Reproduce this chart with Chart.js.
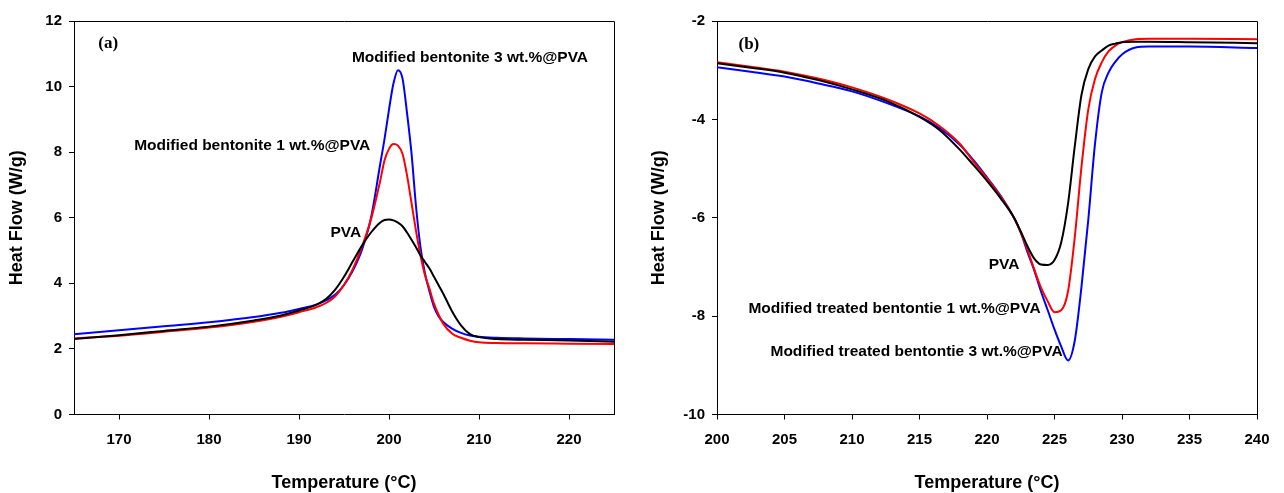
<!DOCTYPE html>
<html>
<head>
<meta charset="utf-8">
<script src="https://cdn.jsdelivr.net/npm/chart.js@4.4.1/dist/chart.umd.min.js"></script>
<style>
  body { margin: 0; background: #fff; }
  .panel { position: absolute; top: 0; width: 642px; height: 493px; }
</style>
</head>
<body>
<div class="panel" style="left:0"><canvas id="dscA" width="642" height="493"></canvas></div>
<div class="panel" style="left:642px"><canvas id="dscB" width="642" height="493"></canvas></div>
<script>
// (a) crystallisation peak, cooling scan
const tempA = [165, 170, 175, 180, 185, 188, 190, 192, 193, 194, 195, 196,
  197, 198, 199, 199.5, 200, 200.5, 201, 201.5,
  202, 202.5, 203, 203.5, 204, 204.5, 205, 205.5, 206,
  207, 208, 209, 210, 212, 215, 220, 225];
const pvaA = [2.30, 2.42, 2.55, 2.68, 2.87, 3.02, 3.17, 3.36, 3.52, 3.80, 4.20, 4.68,
  5.15, 5.55, 5.85, 5.93, 5.95, 5.92, 5.85, 5.74,
  5.55, 5.33, 5.10, 4.85, 4.65, 4.45, 4.20, 3.95, 3.70,
  3.15, 2.72, 2.45, 2.36, 2.30, 2.28, 2.26, 2.22];
const bent1A = [2.32, 2.40, 2.52, 2.65, 2.83, 2.98, 3.12, 3.28, 3.40, 3.60, 3.95, 4.45,
  5.12, 5.95, 7.10, 7.75, 8.10, 8.25, 8.20, 7.95,
  7.30, 6.45, 5.60, 4.85, 4.25, 3.83, 3.38, 3.05, 2.78,
  2.47, 2.34, 2.25, 2.20, 2.18, 2.17, 2.16, 2.15];
const bent3A = [2.45, 2.57, 2.69, 2.81, 2.97, 3.10, 3.22, 3.36, 3.48, 3.65, 3.95, 4.40,
  5.03, 6.00, 7.60, 8.40, 9.30, 10.10, 10.50, 10.25,
  9.20, 7.97, 6.35, 5.10, 4.30, 3.75, 3.28, 3.00, 2.83,
  2.62, 2.49, 2.41, 2.37, 2.34, 2.32, 2.30, 2.28];

// (b) melting endotherm, heating scan
const tempB = [200, 202.5, 205, 207.5, 210, 212.5, 215,
  216.5, 218, 219, 220, 221, 222,
  222.5, 223, 223.5, 224, 224.5, 225, 225.5, 226, 226.5, 227, 227.5, 228, 228.5, 229, 229.5, 230,
  231, 232, 235, 240];
const pvaB = [-2.86, -2.95, -3.05, -3.20, -3.39, -3.62, -3.95,
  -4.22, -4.62, -4.93, -5.25, -5.60, -6.00,
  -6.28, -6.58, -6.83, -6.95, -6.96, -6.86, -6.50, -5.72, -4.55, -3.50, -2.98, -2.72, -2.60, -2.50, -2.46, -2.43,
  -2.42, -2.42, -2.43, -2.45];
const bent1B = [-2.84, -2.93, -3.03, -3.17, -3.35, -3.58, -3.88,
  -4.14, -4.50, -4.86, -5.20, -5.57, -6.00,
  -6.30, -6.65, -7.05, -7.42, -7.70, -7.92, -7.88, -7.50, -6.40, -4.96, -3.80, -3.18, -2.84, -2.62, -2.50, -2.43,
  -2.37, -2.36, -2.36, -2.37];
const bent3B = [-2.94, -3.03, -3.13, -3.27, -3.43, -3.66, -3.94,
  -4.18, -4.52, -4.83, -5.18, -5.55, -6.00,
  -6.30, -6.70, -7.07, -7.50, -7.88, -8.27, -8.62, -8.90, -8.50, -7.40, -6.05, -4.50, -3.45, -3.05, -2.83, -2.68,
  -2.54, -2.52, -2.52, -2.55];

const xTicksA = [170, 180, 190, 200, 210, 220];
const yTicksA = [0, 2, 4, 6, 8, 10, 12];
const xTicksB = [200, 205, 210, 215, 220, 225, 230, 235, 240];
const yTicksB = [-10, -8, -6, -4, -2];

// curve labels, placed in data units
const notesA = [
  { text: '(a)', x: 168.8, y: 11.3, serif: true },
  { text: 'Modified bentonite 3 wt.%@PVA', x: 209.0, y: 10.88 },
  { text: 'Modified bentonite 1 wt.%@PVA', x: 184.8, y: 8.19 },
  { text: 'PVA', x: 195.2, y: 5.55 }
];
const notesB = [
  { text: '(b)', x: 202.36, y: -2.47, serif: true },
  { text: 'PVA', x: 221.26, y: -6.96 },
  { text: 'Modified treated bentontie 1 wt.%@PVA', x: 213.15, y: -7.84 },
  { text: 'Modified treated bentontie 3 wt.%@PVA', x: 214.78, y: -8.72 }
];

const FONT = "'Liberation Sans', Arial, sans-serif";
const SERIF = "'Liberation Serif', 'Times New Roman', serif";

const pts = (xs, ys) => xs.map((x, i) => ({ x, y: ys[i] }));

const line = (label, xs, ys, color) => ({
  label,
  data: pts(xs, ys),
  borderColor: color,
  borderWidth: 2,
  pointRadius: 0,
  fill: false,
  cubicInterpolationMode: 'monotone'
});

// top and right edges of the box, plus the text labels
const boxAndNotes = {
  id: 'boxAndNotes',
  afterDatasetsDraw(chart, args, opts) {
    const { ctx, chartArea: a, scales } = chart;
    ctx.save();
    ctx.strokeStyle = '#000';
    ctx.lineWidth = 1;
    ctx.beginPath();
    ctx.moveTo(a.left, a.top + 0.5);
    ctx.lineTo(a.right + 0.5, a.top + 0.5);
    ctx.lineTo(a.right + 0.5, a.bottom);
    ctx.stroke();
    ctx.fillStyle = '#000';
    ctx.textAlign = 'center';
    ctx.textBaseline = 'middle';
    opts.items.forEach(n => {
      ctx.font = n.serif ? `bold 17px ${SERIF}` : `bold 15.5px ${FONT}`;
      ctx.fillText(n.text, scales.x.getPixelForValue(n.x), scales.y.getPixelForValue(n.y));
    });
    ctx.restore();
  }
};

function makeChart(id, datasets, xr, yr, xTicks, yTicks, notes, yWidth, padRight) {
  const tickFont = { family: FONT, size: 15, weight: 'bold' };
  const titleFont = { family: FONT, size: 18, weight: 'bold', lineHeight: 1 };
  const gridOpts = { display: true, drawOnChartArea: false, drawTicks: true, tickLength: 5, color: '#000' };
  return new Chart(document.getElementById(id), {
    type: 'line',
    data: { datasets },
    plugins: [boxAndNotes],
    options: {
      responsive: false,
      animation: false,
      devicePixelRatio: 1,
      layout: { padding: { top: 21, right: padRight, left: 0, bottom: 0 } },
      plugins: {
        legend: { display: false },
        tooltip: { enabled: false },
        boxAndNotes: { items: notes }
      },
      scales: {
        x: {
          type: 'linear',
          min: xr[0],
          max: xr[1],
          afterFit: s => { s.height = 78.5; },
          afterBuildTicks: s => { s.ticks = xTicks.map(v => ({ value: v })); },
          grid: gridOpts,
          border: { display: true, color: '#000', width: 1 },
          ticks: { color: '#000', font: tickFont, padding: 11, autoSkip: false, maxRotation: 0 },
          title: { display: true, text: 'Temperature (°C)', color: '#000', font: titleFont, padding: { top: 0, bottom: 1 } }
        },
        y: {
          type: 'linear',
          min: yr[0],
          max: yr[1],
          afterFit: s => { s.width = yWidth; },
          afterBuildTicks: s => { s.ticks = yTicks.map(v => ({ value: v })); },
          grid: gridOpts,
          border: { display: true, color: '#000', width: 1 },
          ticks: { color: '#000', font: tickFont, padding: 7, autoSkip: false },
          title: { display: true, text: 'Heat Flow (W/g)', color: '#000', font: titleFont, padding: { top: 8, bottom: 0 } }
        }
      }
    }
  });
}

makeChart('dscA', [
  line('PVA', tempA, pvaA, '#000000'),
  line('Modified bentonite 1 wt.%@PVA', tempA, bent1A, '#ff0000'),
  line('Modified bentonite 3 wt.%@PVA', tempA, bent3A, '#0000ff')
], [165, 225], [0, 12], xTicksA, yTicksA, notesA, 74, 28);

makeChart('dscB', [
  line('PVA', tempB, pvaB, '#000000'),
  line('Modified treated bentontie 1 wt.%@PVA', tempB, bent1B, '#ff0000'),
  line('Modified treated bentontie 3 wt.%@PVA', tempB, bent3B, '#0000ff')
], [200, 240], [-10, -2], xTicksB, yTicksB, notesB, 75, 27);
</script>
</body>
</html>
